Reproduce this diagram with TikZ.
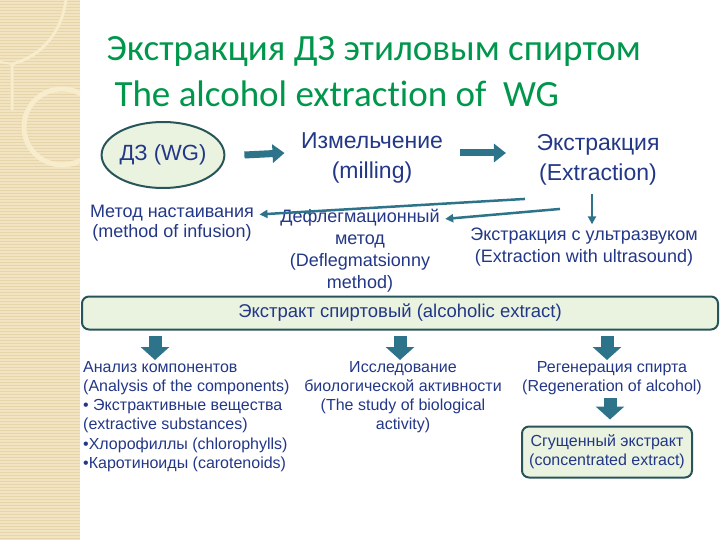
\documentclass[tikz,border=0pt]{standalone}
\usepackage{fontspec}
\setmainfont{Liberation Sans}
\newfontfamily\titlefont[Ligatures=NoCommon]{Carlito}
\usepackage{tikz}
\usetikzlibrary{shapes.geometric,arrows.meta,calc}

\definecolor{titlegreen}{RGB}{0,150,75}
\definecolor{txtblue}{RGB}{35,55,135}
\definecolor{arrteal}{RGB}{45,115,138}
\definecolor{boxfill}{RGB}{234,243,223}
\definecolor{boxline}{RGB}{40,85,90}
\definecolor{stripbeige}{RGB}{242,228,192}
\definecolor{stripline}{RGB}{230,212,170}
\definecolor{ringcol}{RGB}{247,236,204}

\tikzset{
  lbl/.style={text=txtblue,align=center,font=\fontsize{23}{30}\selectfont},
  midlbl/.style={text=txtblue,align=center,font=\fontsize{18}{22}\selectfont},
  smalllbl/.style={text=txtblue,font=\fontsize{16}{19.2}\selectfont},
  fatarr/.style={draw=arrteal,line width=7pt,-{Triangle[length=12pt,width=18pt]}},
  fatdown/.style={draw=arrteal,line width=13pt,-{Triangle[length=13pt,width=28pt]}},
  thinarr/.style={draw=arrteal,line width=2.5pt,-{Triangle[length=8pt,width=8pt]}},
  greenbox/.style={draw=boxline,fill=boxfill,line width=2pt,rounded corners=7pt}
}

\begin{document}
\begin{tikzpicture}[x=1pt,y=1pt,yscale=-1]
\useasboundingbox (0,0) rectangle (720,540);

%Shape: left strip
\fill[stripbeige] (0,0) rectangle (80,540);
\foreach \yy in {1.5,4.5,...,540} \draw[stripline,line width=0.8pt] (0,\yy) -- (80,\yy);
\begin{scope}
\clip (0,0) rectangle (80,540);
\draw[ringcol,line width=5pt] (62,127) circle (38);
\draw[ringcol,line width=3pt] (66,0) .. controls (60,40) and (35,58) .. (12,64) -- (12,110);
\draw[ringcol,line width=2pt] (0,62) -- (12,64);
\end{scope}

% Title
\draw (103,52) node (ttlru) [anchor=west,text=titlegreen,font=\titlefont\fontsize{37}{40}\selectfont] {Экстракция ДЗ этиловым спиртом};
\draw (111,94) node (ttlen) [anchor=west,text=titlegreen,font=\titlefont\fontsize{37}{40}\selectfont] {The alcohol extraction of\ \ WG};

%Shape: Ellipse
\draw (163,155) node (wg) [ellipse,draw=boxline,fill=boxfill,line width=2pt,minimum width=110pt,minimum height=66pt,inner sep=0pt,text=txtblue,font=\fontsize{22}{26}\selectfont] {ДЗ (WG)};

% Text Node
\draw (372,158) node (mill) [lbl] {Измельчение\\(milling)};
% Text Node
\draw (598,160) node (extr) [lbl] {Экстракция\\(Extraction)};
% Text Node
\draw (172,223) node (infus) [midlbl,font=\fontsize{18}{20}\selectfont] {Метод настаивания\\(method of infusion)};
% Text Node
\draw (360,251) node (defl) [midlbl] {Дефлегмационный\\метод\\(Deflegmatsionny\\method)};
% Text Node
\draw (584,247) node (ultra) [midlbl] {Экстракция с ультразвуком\\(Extraction with ultrasound)};

%Block Arrows
\draw[fatarr] ([xshift=19pt]wg.east) -- ($(mill.west |- wg.east)+(-13,-2)$);
\draw[fatarr] ($(mill.east |- wg.east)+(14,-2)$) -- ($(extr.west |- wg.east)+(-27,-2)$);

%Straight Lines
\draw[thinarr] ($(extr.south west)+(-8,10)$) -- ($(infus.north east)+(2,13)$);
\draw[thinarr] ($(extr.south)+(-38,20)$) -- ($(defl.north east)+(2,13)$);
\draw[thinarr] ($(extr.south)+(-6,5)$) coordinate (u0) -- (u0 |- ultra.north);

%Shape: Rectangle
\draw (400,313) node (alc) [greenbox,minimum width=636pt,minimum height=33pt,midlbl,font=\fontsize{18.5}{22}\selectfont] {Экстракт спиртовый (alcoholic extract)};

% Text Node
\draw (83,361) node (anal) [smalllbl,anchor=north west,align=left,inner sep=0pt] {Анализ компонентов\\(Analysis of the components)\\• Экстрактивные вещества\\(extractive substances)\\•Хлорофиллы (chlorophylls)\\•Каротиноиды (carotenoids)};
% Text Node
\draw (403,361) node (bio) [smalllbl,anchor=north,align=center,inner sep=0pt] {Исследование\\биологической активности\\(The study of biological\\activity)};
% Text Node
\draw (612,361) node (regen) [smalllbl,anchor=north,align=center,inner sep=0pt] {Регенерация спирта\\(Regeneration of alcohol)};

%Shape: Rectangle
\draw (607,452) node (conc) [greenbox,minimum width=170pt,minimum height=51pt,smalllbl,align=center] {Сгущенный экстракт\\(concentrated extract)};

%Block Arrows
\coordinate (a1) at (155,360);
\draw[fatdown] ($(alc.south -| a1)+(0,5)$) -- (a1);
\draw[fatdown] ($(alc.south -| bio.north)+(-3,5)$) -- ($(bio.north)+(-3,-1)$);
\draw[fatdown] ($(alc.south -| regen.north)+(-5,5)$) -- ($(regen.north)+(-5,-1)$);
\draw[fatdown] ($(regen.south)+(-2,3)$) -- ($(regen.south |- conc.north)+(-2,-6)$);

\end{tikzpicture}
\end{document}
